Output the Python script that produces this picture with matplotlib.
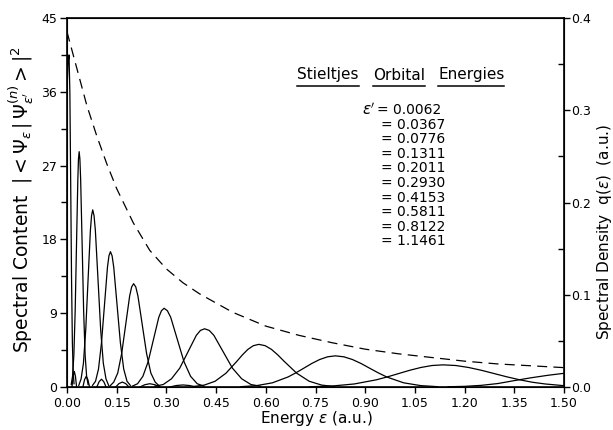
import matplotlib
matplotlib.use("Agg")
import matplotlib.pyplot as plt
from matplotlib.ticker import MultipleLocator
from matplotlib.lines import Line2D

plt.rcParams['font.family'] = ['DejaVu Sans']
plt.rcParams['mathtext.fontset'] = 'dejavusans'

# Stieltjes orbital energies (listed in the box)
orbital_energies = ["0.0062", "0.0367", "0.0776", "0.1311", "0.2011",
                    "0.2930", "0.4153", "0.5811", "0.8122", "1.1461"]

# spectral content curves, one per orbital energy
c1_x = [0.0, 0.003, 0.0062, 0.0087, 0.0112, 0.0137, 0.0162, 0.0187, 0.0212]
c1_y = [36.0, 39.5, 40.5, 35.7, 24.6, 13.2, 5.5, 1.8, 0.4]

c2_x = [0.0127, 0.0167, 0.0207, 0.0247, 0.0287, 0.0327, 0.0346, 0.0367, 0.0389, 0.0412, 0.0457, 0.0502, 0.0547, 0.0592, 0.0637]
c2_y = [0.3, 1.3, 3.9, 9.3, 17.4, 25.3, 27.8, 28.7, 27.8, 25.3, 17.4, 9.3, 3.9, 1.3, 0.3]

c3_x = [0.0356, 0.0426, 0.0496, 0.0566, 0.0636, 0.0706, 0.0741, 0.0776, 0.0816, 0.0856, 0.0936, 0.1016, 0.1096, 0.1176, 0.1256]
c3_y = [0.2, 1.0, 2.9, 7.0, 13.1, 19.1, 20.9, 21.6, 20.9, 19.1, 13.1, 7.0, 2.9, 1.0, 0.2]

c4_x = [0.0771, 0.0861, 0.0951, 0.1041, 0.1131, 0.1221, 0.1266, 0.1311, 0.1361, 0.1411, 0.1511, 0.1611, 0.1711, 0.1811, 0.1911]
c4_y = [0.2, 0.7, 2.2, 5.4, 10.0, 14.6, 16.0, 16.5, 16.0, 14.6, 10.0, 5.4, 2.2, 0.7, 0.2]

c5_x = [0.1291, 0.1411, 0.1531, 0.1651, 0.1771, 0.1891, 0.1951, 0.2011, 0.2076, 0.2141, 0.2271, 0.2401, 0.2531, 0.2661, 0.2791]
c5_y = [0.1, 0.6, 1.7, 4.1, 7.6, 11.1, 12.2, 12.6, 12.2, 11.1, 7.6, 4.1, 1.7, 0.6, 0.1]

c6_x = [0.197, 0.213, 0.229, 0.245, 0.261, 0.277, 0.285, 0.293, 0.303, 0.313, 0.333, 0.353, 0.373, 0.393, 0.413]
c6_y = [0.1, 0.4, 1.3, 3.1, 5.8, 8.5, 9.3, 9.6, 9.3, 8.5, 5.8, 3.1, 1.3, 0.4, 0.1]

c7_x = [0.2653, 0.2903, 0.3153, 0.3403, 0.3653, 0.3903, 0.4028, 0.4153, 0.4293, 0.4433, 0.4713, 0.4993, 0.5273, 0.5553, 0.5833]
c7_y = [0.1, 0.3, 1.0, 2.3, 4.3, 6.3, 6.9, 7.1, 6.9, 6.3, 4.3, 2.3, 1.0, 0.3, 0.1]

c8_x = [0.381, 0.414, 0.447, 0.480, 0.513, 0.5295, 0.546, 0.5625, 0.579, 0.598, 0.617, 0.636, 0.655, 0.693, 0.731, 0.769, 0.807]
c8_y = [0.06, 0.23, 0.70, 1.69, 3.15, 3.92, 4.59, 5.04, 5.2, 5.04, 4.59, 3.92, 3.15, 1.69, 0.70, 0.23, 0.06]

c9_x = [0.525, 0.5725, 0.62, 0.6675, 0.6913, 0.715, 0.7388, 0.7625, 0.7863, 0.81, 0.8358, 0.8615, 0.8873, 0.913, 0.9388, 0.9645, 1.016, 1.0675, 1.119]
c9_y = [0.04, 0.17, 0.51, 1.23, 1.74, 2.30, 2.87, 3.35, 3.68, 3.8, 3.68, 3.35, 2.87, 2.30, 1.74, 1.23, 0.51, 0.17, 0.04]

c10_x = [0.733, 0.8, 0.867, 0.934, 0.9675, 1.001, 1.0345, 1.068, 1.1015, 1.135, 1.1735, 1.212, 1.2505, 1.289, 1.3275, 1.366, 1.4045, 1.443, 1.5]
c10_y = [0.03, 0.12, 0.37, 0.88, 1.24, 1.64, 2.04, 2.38, 2.62, 2.7, 2.62, 2.38, 2.04, 1.64, 1.24, 0.88, 0.58, 0.37, 0.16]

# next orbital, only its rising flank is inside the window
c11_x = [1.15, 1.2, 1.25, 1.3, 1.35, 1.4, 1.45, 1.5]
c11_y = [0.03, 0.08, 0.2, 0.42, 0.78, 1.12, 1.42, 1.67]

# small side lobes sitting on the baseline
lobe_x = [[0.015, 0.0185, 0.022, 0.0255, 0.029],
          [0.048, 0.053, 0.058, 0.063, 0.068],
          [0.090, 0.097, 0.104, 0.111, 0.118],
          [0.147, 0.157, 0.167, 0.177, 0.187],
          [0.22, 0.235, 0.25, 0.265, 0.28],
          [0.31, 0.33, 0.35, 0.37, 0.39]]
lobe_y = [[0.0, 1.3, 1.9, 1.3, 0.0],
          [0.0, 0.9, 1.3, 0.9, 0.0],
          [0.0, 0.65, 0.95, 0.65, 0.0],
          [0.0, 0.42, 0.6, 0.42, 0.0],
          [0.0, 0.28, 0.4, 0.28, 0.0],
          [0.0, 0.18, 0.25, 0.18, 0.0]]

# spectral density q(e), right axis
dens_x = [0.0, 0.03, 0.06, 0.09, 0.12, 0.15, 0.20, 0.25, 0.30, 0.35, 0.40, 0.50,
          0.60, 0.70, 0.80, 0.90, 1.00, 1.10, 1.20, 1.30, 1.40, 1.50]
dens_y = [0.385, 0.345, 0.305, 0.272, 0.242, 0.215, 0.178, 0.148, 0.128, 0.113, 0.101, 0.081,
          0.066, 0.056, 0.048, 0.041, 0.036, 0.032, 0.028, 0.025, 0.023, 0.021]

x_ticks = [0.00, 0.15, 0.30, 0.45, 0.60, 0.75, 0.90, 1.05, 1.20, 1.35, 1.50]
left_ticks = [0, 9, 18, 27, 36, 45]
right_ticks = [0.0, 0.1, 0.2, 0.3, 0.4]

W, H = 613, 430
fig = plt.figure(figsize=(W / 100, H / 100), dpi=100)
ax = fig.add_axes([67 / W, 1 - 387 / H, (564 - 67) / W, (387 - 18) / H])

curves = [(c1_x, c1_y), (c2_x, c2_y), (c3_x, c3_y), (c4_x, c4_y), (c5_x, c5_y),
          (c6_x, c6_y), (c7_x, c7_y), (c8_x, c8_y), (c9_x, c9_y), (c10_x, c10_y),
          (c11_x, c11_y)]
for cx, cy in curves:
    ax.plot(cx, cy, color='black', lw=0.9, solid_joinstyle='round')
for lx, ly in zip(lobe_x, lobe_y):
    ax.plot(lx, ly, color='black', lw=0.9)

ax.set_xlim(0, 1.5)
ax.set_ylim(0, 45)
ax.set_xticks(x_ticks)
ax.set_xticklabels(["%.2f" % t for t in x_ticks], fontsize=9)
ax.set_yticks(left_ticks)
ax.set_yticklabels([str(t) for t in left_ticks], fontsize=9)
ax.yaxis.set_minor_locator(MultipleLocator(4.5))
ax.tick_params(axis='x', direction='out', length=4, width=1, pad=3)
ax.tick_params(axis='y', which='major', direction='out', length=5, width=1, pad=2)
ax.tick_params(axis='y', which='minor', direction='out', length=4, width=1)
for s in ax.spines.values():
    s.set_linewidth(1.2)

ax2 = ax.twinx()
ax2.plot(dens_x, dens_y, color='black', lw=0.9, dashes=(8, 5))
ax2.set_ylim(0, 0.4)
ax2.set_yticks(right_ticks)
ax2.set_yticklabels(["%.1f" % t for t in right_ticks], fontsize=9)
ax2.yaxis.set_minor_locator(MultipleLocator(0.05))
ax2.tick_params(axis='y', which='major', direction='out', length=4, width=1, pad=1)
ax2.tick_params(axis='y', which='minor', direction='in', length=4, width=1)

# axis titles placed by pixel position
fig.text(316 / W, 1 - 419 / H, r"Energy $\epsilon$ (a.u.)", fontsize=11,
         ha='center', va='center')
fig.text(21 / W, 1 - 200 / H,
         r"Spectral Content  $|<\Psi_\epsilon\,|\,\Psi_{\epsilon'}^{(n)}>|^2$",
         fontsize=13.5, rotation=90, ha='center', va='center')
fig.text(604 / W, 1 - 232 / H, r"Spectral Density  q($\epsilon$)  (a.u.)",
         fontsize=11, rotation=90, ha='center', va='center')

# box text: title with underlined words, then the energies
words = ["Stieltjes", "Orbital", "Energies"]
word_x = [297, 373, 438]
word_txt = []
for w, wx in zip(words, word_x):
    word_txt.append(fig.text(wx / W, 1 - 75 / H, w, fontsize=11, ha='left', va='center'))

fig.text(362 / W, 1 - 110 / H, r"$\epsilon'$", fontsize=11, ha='left', va='center')
for i, e in enumerate(orbital_energies):
    ex = 377 if i == 0 else 381
    fig.text(ex / W, 1 - (110 + 14.6 * i) / H, "= " + e, fontsize=10, ha='left', va='center')

fig.canvas.draw()
r = fig.canvas.get_renderer()
for t in word_txt:
    bb = t.get_window_extent(renderer=r)
    y = bb.y0 - 3
    fig.add_artist(Line2D([bb.x0 / W, bb.x1 / W], [y / H, y / H], transform=fig.transFigure,
                          color='black', lw=1.1))

fig.savefig("out.png", dpi=100)
